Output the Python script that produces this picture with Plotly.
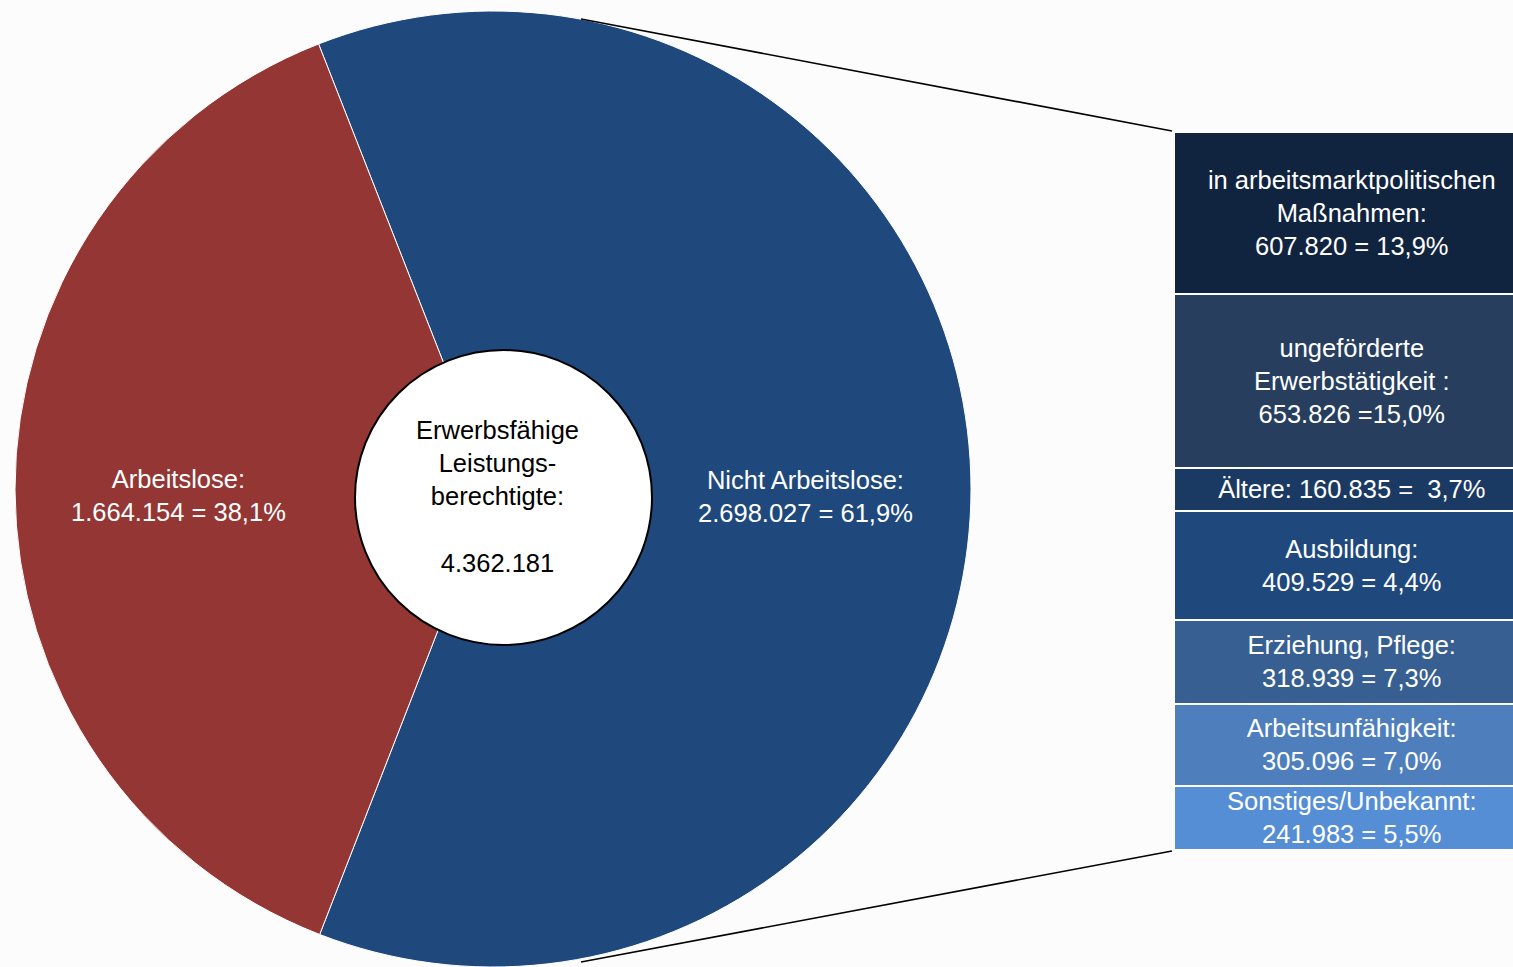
import plotly.graph_objects as go

W, H = 1513, 967

# ---- data ----
pie_labels = ["Nicht Arbeitslose", "Arbeitslose"]
pie_values = [2698027, 1664154]
pie_texts = ["Nicht Arbeitslose:<br>2.698.027 = 61,9%", "Arbeitslose:<br>1.664.154 = 38,1%"]
pie_colors = ["#1f497d", "#943634"]
total_label = "Erwerbsfähige<br>Leistungs-<br>berechtigte:<br><br>4.362.181"

bar_labels = ["in arbeitsmarktpolitischen<br>Maßnahmen:<br>607.820 = 13,9%",
              "ungeförderte<br>Erwerbstätigkeit :<br>653.826 =15,0%",
              "Ältere: 160.835 =  3,7%",
              "Ausbildung:<br>409.529 = 4,4%",
              "Erziehung, Pflege:<br>318.939 = 7,3%",
              "Arbeitsunfähigkeit:<br>305.096 = 7,0%",
              "Sonstiges/Unbekannt:<br>241.983 = 5,5%"]
bar_values = [607820, 653826, 160835, 409529, 318939, 305096, 241983]
bar_colors = ["#11243f", "#273e5f", "#1b3a63", "#1f487d", "#375f92", "#4e7fbc", "#568ed6"]

FONT = "Liberation Sans, Arial, sans-serif"
FS = 25.5

def px(x):
    return x / W

def py(y):
    return 1 - y / H

fig = go.Figure()

fig.add_trace(go.Pie(
    labels=pie_labels, values=pie_values, sort=False, direction="clockwise",
    rotation=-21.4, textinfo="none", hoverinfo="label+value",
    marker=dict(colors=pie_colors, line=dict(color="white", width=1)),
    domain=dict(x=[px(14), px(972)], y=[0, py(11)]),
    showlegend=False,
))

for lab, val, col in zip(bar_labels, bar_values, bar_colors):
    fig.add_trace(go.Bar(
        x=[0], y=[val], name=lab,
        marker=dict(color=col, line=dict(color="white", width=2.5)),
        text=[lab], textposition="inside", insidetextanchor="middle",
        textangle=0, textfont=dict(color="white", size=FS, family=FONT),
        hoverinfo="name", showlegend=False,
    ))

total_bar = sum(bar_values)
fig.update_layout(
    width=W, height=H, margin=dict(l=0, r=0, t=0, b=0),
    paper_bgcolor="#fcfcfc", plot_bgcolor="rgba(0,0,0,0)",
    barmode="stack", bargap=0,
    uniformtext=dict(minsize=FS, mode="show"),
    font=dict(family=FONT, size=FS, color="black"),
    xaxis=dict(domain=[px(1174), 1], visible=False, range=[-0.5, 0.452], fixedrange=True),
    yaxis=dict(domain=[py(850), py(132)], visible=False, range=[total_bar, 0], fixedrange=True),
)

# connecting lines
fig.add_shape(type="line", xref="paper", yref="paper",
              x0=px(581), y0=py(19), x1=px(1172), y1=py(131),
              line=dict(color="black", width=1.6))
fig.add_shape(type="line", xref="paper", yref="paper",
              x0=px(581), y0=py(962), x1=px(1172), y1=py(851),
              line=dict(color="black", width=1.6))

# center circle
fig.add_shape(type="circle", xref="paper", yref="paper",
              x0=px(355), x1=px(652), y0=py(645), y1=py(350),
              fillcolor="white", line=dict(color="black", width=2))

fig.add_annotation(x=px(497), y=py(496), xref="paper", yref="paper",
                   xanchor="center", yanchor="middle",
                   text=total_label, showarrow=False,
                   font=dict(color="black", size=FS, family=FONT))

# pie labels
fig.add_annotation(x=px(805), y=py(496), xref="paper", yref="paper",
                   xanchor="center", yanchor="middle",
                   text=pie_texts[0], showarrow=False,
                   font=dict(color="white", size=FS, family=FONT))
fig.add_annotation(x=px(178), y=py(495), xref="paper", yref="paper",
                   xanchor="center", yanchor="middle",
                   text=pie_texts[1], showarrow=False,
                   font=dict(color="white", size=FS, family=FONT))

fig.write_html("out.html", config={"displayModeBar": False},
               post_script="document.body.style.margin='0';document.body.style.overflow='hidden';")
